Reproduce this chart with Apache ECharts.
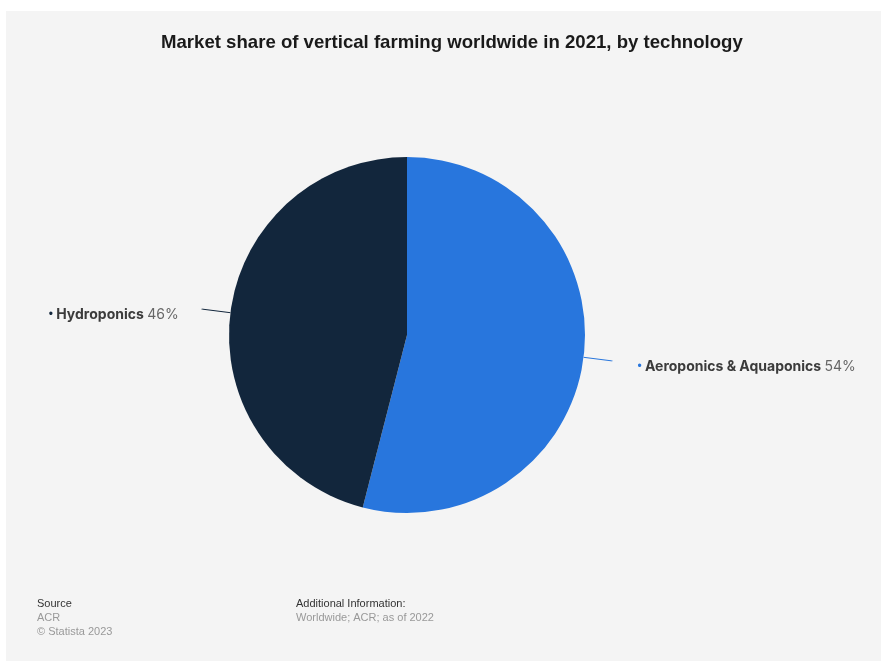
<!DOCTYPE html>
<html>
<head>
<meta charset="utf-8">
<style>
  html, body { margin: 0; padding: 0; background: #ffffff; }
  #chart { width: 881px; height: 661px; }
</style>
<script src="https://cdn.jsdelivr.net/npm/echarts@6/dist/echarts.min.js"></script>
</head>
<body>
<div id="chart"></div>
<script>
// Market share by technology (percent)
const categories = ['Aeroponics & Aquaponics', 'Hydroponics'];
const shares = [54, 46];
const colors = ['#2876dd', '#12263c'];

const chart = echarts.init(document.getElementById('chart'), null, { renderer: 'canvas' });

const labelFont = 'Inter, Roboto, "Noto Sans", sans-serif';
const footFont = '"Liberation Sans", Arial, sans-serif';

const pieData = categories.map((name, i) => ({
  name: name,
  value: shares[i],
  itemStyle: { color: colors[i] },
  label: {
    padding: i === 0 ? [12, 0, 0, 20] : [12, 18, 0, 0],
    rich: {
      dot: { color: colors[i], fontSize: 12, fontFamily: 'Arial, sans-serif' }
    }
  }
}));

chart.setOption({
  backgroundColor: '#ffffff',
  animation: false,
  graphic: [
    { type: 'rect', left: 6, top: 11, shape: { width: 875, height: 650 }, style: { fill: '#f4f4f4' }, z: -10 },
    { type: 'text', left: 37, top: 598, style: { text: 'Source', font: '11px ' + footFont, fill: '#333333' } },
    { type: 'text', left: 37, top: 612, style: { text: 'ACR', font: '11px ' + footFont, fill: '#999999' } },
    { type: 'text', left: 37, top: 626, style: { text: '© Statista 2023', font: '11px ' + footFont, fill: '#999999' } },
    { type: 'text', left: 296, top: 598, style: { text: 'Additional Information:', font: '11px ' + footFont, fill: '#333333' } },
    { type: 'text', left: 296, top: 612, style: { text: 'Worldwide; ACR; as of 2022', font: '11px ' + footFont, fill: '#999999' } }
  ],
  title: {
    text: 'Market share of vertical farming worldwide in 2021, by technology',
    left: 156,
    top: 28,
    textStyle: { fontFamily: footFont, fontWeight: 'bold', fontSize: 18.6, color: '#1a1a1a' }
  },
  series: [{
    type: 'pie',
    center: [407, 335],
    radius: [0, 178],
    startAngle: 90,
    clockwise: true,
    avoidLabelOverlap: false,
    data: pieData,
    label: {
      show: true,
      position: 'outside',
      formatter: '{dot|•} {name|{b}} {val|{c}%}',
      rich: {
        name: { fontFamily: labelFont, fontWeight: 'bold', fontSize: 14, color: '#3b3b3b' },
        val: { fontFamily: labelFont, fontSize: 14, color: '#666666' }
      }
    },
    labelLine: {
      show: true,
      length: 28,
      length2: 1,
      lineStyle: { width: 1 }
    },
    emphasis: { disabled: true }
  }]
});
</script>
</body>
</html>
